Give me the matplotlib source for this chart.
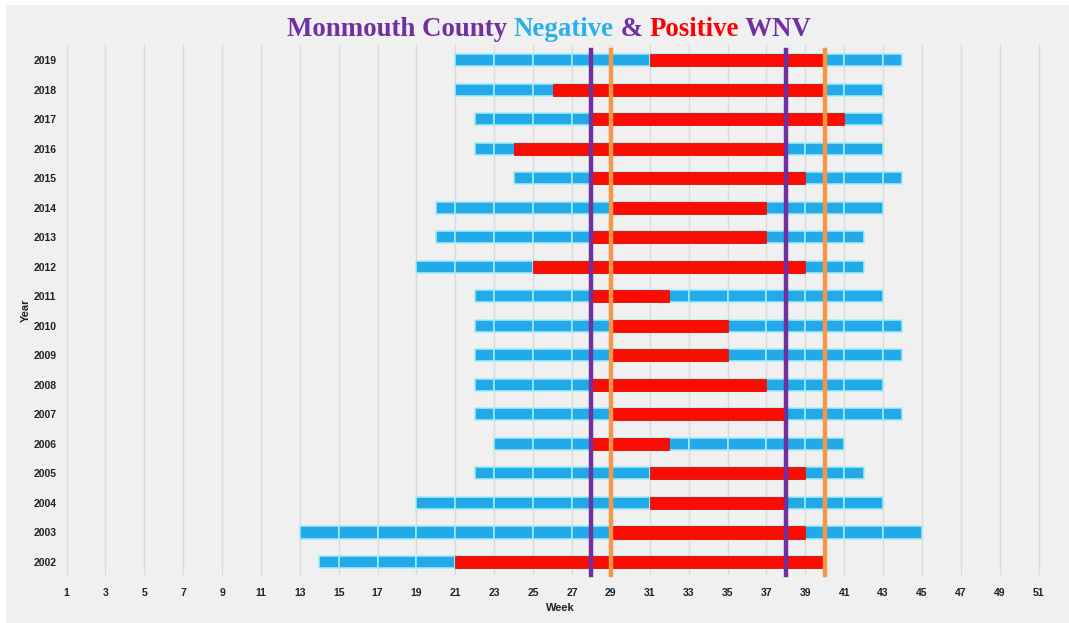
import matplotlib
matplotlib.use("Agg")
import matplotlib.pyplot as plt
from matplotlib.patches import Rectangle

# ---- data ----
years = list(range(2002, 2020))
neg_start = [14, 13, 19, 22, 23, 22, 22, 22, 22, 22, 19, 20, 20, 24, 22, 22, 21, 21]
pos_start = [21, 29, 31, 31, 28, 29, 28, 29, 29, 28, 25, 28, 29, 28, 24, 28, 26, 31]
pos_end   = [40, 39, 38, 39, 32, 38, 37, 35, 35, 32, 39, 37, 37, 39, 38, 41, 40, 40]
neg_end   = [40, 45, 43, 42, 41, 44, 43, 44, 44, 43, 42, 42, 43, 44, 43, 43, 43, 44]
purple_weeks = [28, 38]
orange_weeks = [29, 40]
week_ticks = list(range(1, 52, 2))

BLUE = "#22aae8"
BLUE_EDGE = "#a6ecfa"
RED = "#fb0c00"
RED_EDGE = "#dd1100"
PURPLE = "#7030a0"
ORANGE = "#f79646"
BG = "#f0f0f0"

W, H = 1069, 623
fig = plt.figure(figsize=(W / 100, H / 100), dpi=100, facecolor=BG)
# thin white outer border (top / left)
fig.patches.append(Rectangle((0, 1 - 5 / H), 1, 5 / H, transform=fig.transFigure,
                             facecolor="white", edgecolor="none", zorder=-5))
fig.patches.append(Rectangle((0, 0), 6 / W, 1, transform=fig.transFigure,
                             facecolor="white", edgecolor="none", zorder=-5))

left, right, top, bottom = 62, 1058, 45, 575
ax = fig.add_axes([left / W, 1 - bottom / H, (right - left) / W, (bottom - top) / H])
ax.set_facecolor(BG)

bar_h = 0.41
for i, y in enumerate(years):
    s, e = neg_start[i], neg_end[i]
    bounds = [s] + [w for w in range(1, 60, 2) if s < w < e] + [e]
    for a, b in zip(bounds[:-1], bounds[1:]):
        ax.barh(i, b - a, left=a, height=bar_h, color=BLUE, edgecolor=BLUE_EDGE,
                linewidth=1.1, zorder=3)
    ax.barh(i, pos_end[i] - pos_start[i], left=pos_start[i], height=bar_h, color=RED,
            edgecolor=RED_EDGE, linewidth=0.6, zorder=4)

for w in purple_weeks:
    ax.axvline(w, ymin=0.0, ymax=0.99, color=PURPLE, lw=3.2, zorder=6, clip_on=False)
for w in orange_weeks:
    ax.axvline(w, ymin=0.0, ymax=0.99, color=ORANGE, lw=3.2, zorder=6, clip_on=False)

ax.set_xlim(1 - 4.5 / 19.44, 52)
ax.set_ylim(-0.44, 17.51)
ax.set_xticks(week_ticks)
ax.set_xticklabels([str(w) for w in week_ticks])
ax.set_yticks(range(len(years)))
ax.set_yticklabels([str(y) for y in years])
ax.grid(axis="x", color="#dadada", lw=1.0, zorder=0)
ax.grid(axis="y", visible=False)
ax.set_axisbelow(True)
for sp in ax.spines.values():
    sp.set_visible(False)
ax.tick_params(axis="both", length=0, labelsize=7.5, labelcolor="#222222")
ax.tick_params(axis="x", pad=9)
ax.tick_params(axis="y", pad=4)
for lab in ax.get_xticklabels() + ax.get_yticklabels():
    lab.set_fontfamily("Liberation Sans")
    lab.set_fontweight("bold")

ax.set_xlabel("Week", fontsize=8, fontweight="bold", family="Liberation Sans",
              color="#222222", labelpad=4)
ax.set_ylabel("Year", fontsize=8, fontweight="bold", family="Liberation Sans",
              color="#222222", labelpad=2)

# ---- multi-coloured title ----
parts = [("Monmouth County ", PURPLE), ("Negative", "#2ab0ea"), (" & ", PURPLE),
         ("Positive", "#ff0000"), (" WNV", PURPLE)]
renderer = fig.canvas.get_renderer()
fs = 19.4
texts = []
widths = []
for s, c in parts:
    t = fig.text(0, 0, s, fontsize=fs, fontweight="bold", family="Liberation Serif",
                 color=c, va="center", ha="left")
    bb = t.get_window_extent(renderer=renderer)
    texts.append(t)
    widths.append(bb.width)
total = sum(widths)
x0 = 549 - total / 2
yc = 1 - 30 / H
for t, wdt in zip(texts, widths):
    t.set_position((x0 / W, yc))
    x0 += wdt

fig.savefig("out.png", dpi=100, facecolor=BG)
